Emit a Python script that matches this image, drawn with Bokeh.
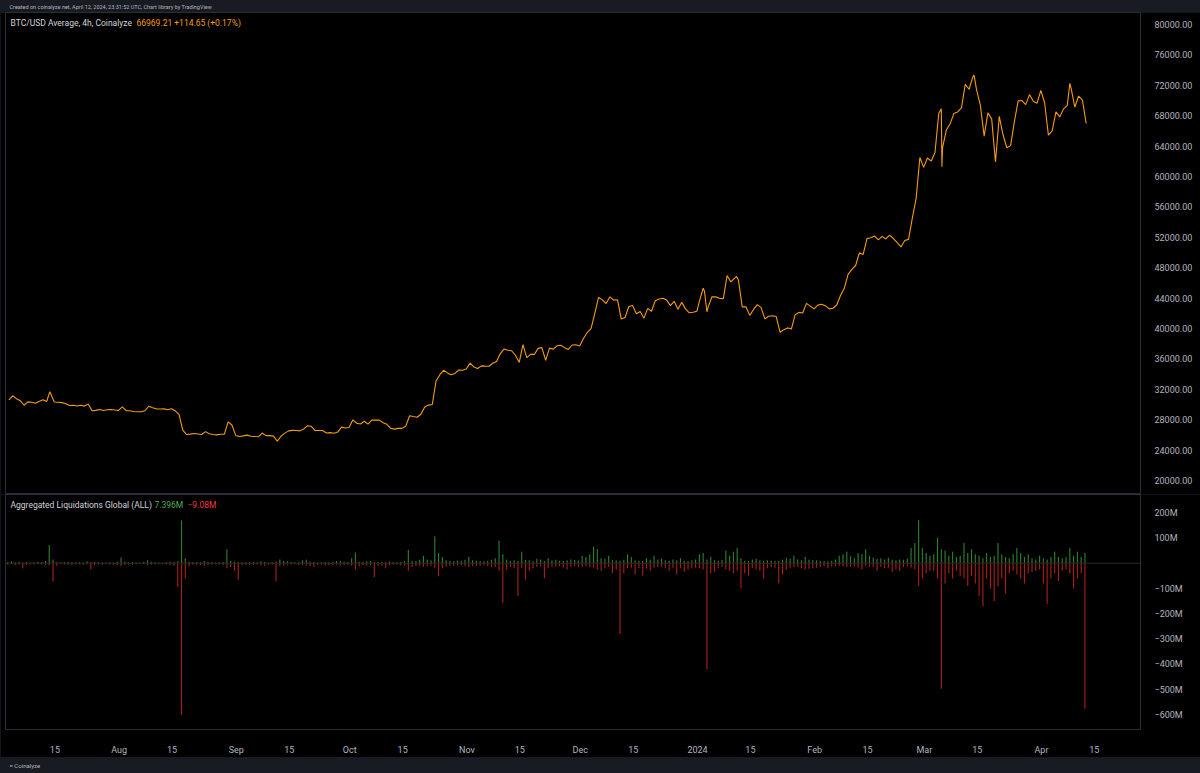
import pandas as pd
from bokeh.plotting import figure
from bokeh.layouts import column
from bokeh.models import (FixedTicker, CustomJSTickFormatter, NumeralTickFormatter,
                          Label, Range1d, Span)
from bokeh.embed import file_html
from bokeh.resources import INLINE

# ---------------- data ----------------
price_start = "2023-07-02"
price_jul = [30600, 31150, 30770, 30500, 29900, 30350, 30290, 30170, 30410, 30620,
             30390, 31470, 30330, 30300, 30250, 30140, 29860, 29910, 29800, 29910,
             29790, 30080, 29180, 29230, 29350, 29210, 29310, 29350, 29280, 29230]
price_aug = [29700, 29180, 29180, 29080, 29040, 29040, 29180, 29770, 29580, 29430,
             29400, 29420, 29300, 29430, 29170, 28700, 26630, 26050, 26100, 26190,
             26120, 26050, 26430, 26160, 26050, 26000, 26090, 26100, 27720, 27300, 25930]
price_sep = [25800, 25870, 25970, 25820, 25780, 25750, 26240, 25900, 25900, 25840,
             25160, 25840, 26230, 26530, 26600, 26570, 26530, 26770, 27210, 27130,
             26570, 26580, 26580, 26250, 26300, 26220, 26370, 27020, 26910, 26970]
price_oct = [27980, 27530, 27430, 27790, 27410, 27950, 27970, 27940, 27590, 27390,
             26870, 26760, 26860, 26860, 27160, 28520, 28420, 28330, 28720, 29680,
             29920, 29990, 33090, 33920, 34500, 34160, 33910, 34090, 34540, 34500, 34670]
price_nov = [35440, 34940, 34730, 35080, 35050, 35040, 35420, 35650, 36700, 37310,
             37140, 37070, 36480, 35550, 37880, 36160, 36600, 36590, 37390, 37480,
             35810, 37420, 37290, 37720, 37800, 37480, 37250, 37830, 37860, 37710]
price_dec = [38690, 39470, 39980, 41980, 44080, 43770, 43290, 44170, 43730, 43790,
             41240, 41450, 42890, 43020, 41930, 42240, 41360, 42650, 42270, 43650,
             43870, 43990, 43740, 43010, 43580, 42520, 43440, 42580, 42070, 42140, 42280]
price_jan = [44180, 44940, 42850, 44180, 44160, 43970, 43930, 46970, 46120, 46630,
             46360, 42850, 42840, 41730, 42510, 43150, 42740, 41260, 41620, 41670,
             41570, 39510, 39850, 40080, 39930, 41820, 42120, 42030, 43300, 42950, 42580]
price_feb = [43080, 43190, 43000, 42580, 42660, 43090, 44340, 45290, 47130, 47770,
             48290, 49960, 49740, 51830, 51940, 52160, 51660, 52120, 51780, 52280,
             51840, 51300, 50730, 51570, 51730, 54520, 57090, 62500, 61200]
price_mar = [62440, 62030, 63170, 68330, 63800, 66110, 66930, 68300, 68500, 69020,
             72120, 71480, 73080, 71400, 69400, 65320, 68390, 67550, 61910, 67910,
             65490, 63780, 64060, 67230, 69960, 69990, 69460, 70780, 69900, 69650, 71330]
price_apr = [69700, 65450, 65990, 68510, 67840, 68900, 69360, 71620, 69140, 70590,
             70060, 66969.21]

# intraday extremes visible on the 4h line
price_extra_times = ["2023-07-13 16:00", "2024-01-02 12:00", "2024-01-03 12:00",
                     "2024-01-11 08:00", "2024-03-05 12:00", "2024-03-05 16:00",
                     "2024-03-14 04:00", "2024-04-08 12:00"]
price_extra_values = [31700, 45300, 42200, 46850, 68900, 61300, 73350, 72250]

# liquidations, millions USD (green = positive, red = negative magnitude)
liq_green_jul = [5, 8, 4, 6, 3, 5, 3, 4, 6, 5, 9, 72, 15, 4, 3, 5, 6, 4, 3, 4,
                 3, 8, 4, 5, 4, 3, 3, 4, 3, 6]
liq_green_aug = [23, 6, 4, 5, 3, 3, 5, 12, 6, 4, 3, 3, 4, 6, 5, 8, 170, 20, 6, 4,
                 5, 4, 9, 5, 4, 3, 4, 5, 55, 10, 6]
liq_green_sep = [5, 3, 4, 4, 5, 4, 8, 5, 3, 4, 6, 15, 9, 8, 5, 3, 4, 12, 14, 6,
                 5, 3, 4, 5, 4, 6, 9, 10, 6, 5]
liq_green_oct = [20, 42, 6, 5, 8, 9, 4, 5, 6, 4, 7, 5, 4, 5, 8, 52, 10, 9, 14, 30,
                 15, 12, 107, 40, 25, 12, 9, 8, 11, 10, 14]
liq_green_nov = [25, 12, 10, 9, 8, 10, 14, 20, 89, 35, 15, 10, 12, 9, 45, 14, 12, 8, 18, 15,
                 9, 20, 12, 14, 10, 9, 12, 15, 13, 11]
liq_green_dec = [30, 25, 35, 65, 55, 20, 18, 30, 12, 12, 10, 14, 35, 25, 12, 10, 9, 20, 14, 30,
                 15, 18, 12, 10, 15, 12, 20, 10, 9, 12, 15]
liq_green_jan = [35, 40, 15, 25, 12, 10, 14, 50, 30, 45, 60, 20, 10, 9, 15, 18, 12, 10, 12, 11,
                 10, 9, 14, 20, 18, 30, 15, 12, 25, 14, 13]
liq_green_feb = [12, 10, 9, 8, 10, 15, 30, 35, 45, 28, 20, 40, 35, 55, 30, 22, 18, 20, 15, 22,
                 14, 12, 15, 14, 18, 60, 80, 170, 60]
liq_green_mar = [40, 30, 35, 100, 55, 50, 30, 45, 25, 30, 80, 40, 55, 35, 30, 20, 40, 25, 30, 80,
                 35, 25, 20, 35, 60, 40, 25, 35, 20, 15, 30]
liq_green_apr = [20, 15, 25, 45, 25, 20, 25, 60, 30, 45, 25, 40]

liq_red_jul = [6, 4, 8, 5, 20, 6, 4, 5, 4, 5, 6, 8, 72, 10, 4, 5, 6, 8, 5, 4,
               6, 5, 25, 8, 5, 6, 4, 5, 6, 7]
liq_red_aug = [12, 6, 5, 6, 4, 3, 4, 8, 6, 5, 4, 3, 5, 6, 10, 94, 600, 60, 12, 6,
               5, 8, 10, 6, 5, 4, 5, 6, 20, 15, 30]
liq_red_sep = [65, 8, 6, 5, 6, 5, 8, 10, 5, 6, 72, 12, 8, 6, 5, 4, 6, 8, 10, 12,
               15, 6, 5, 9, 8, 7, 6, 10, 8, 6]
liq_red_oct = [10, 25, 12, 8, 9, 8, 55, 12, 10, 20, 8, 6, 5, 9, 10, 30, 15, 12, 10, 14,
               12, 10, 18, 52, 20, 14, 12, 10, 9, 8, 12]
liq_red_nov = [15, 12, 10, 10, 8, 12, 14, 15, 30, 156, 25, 15, 20, 130, 18, 65, 30, 20, 14, 12,
               59, 20, 15, 14, 12, 18, 25, 14, 12, 16]
liq_red_dec = [14, 12, 15, 18, 25, 30, 20, 15, 40, 25, 280, 40, 20, 18, 45, 20, 50, 22, 30, 18,
               15, 14, 20, 30, 18, 45, 20, 35, 25, 20, 18]
liq_red_jan = [20, 25, 420, 40, 35, 20, 15, 25, 30, 40, 30, 100, 40, 50, 20, 25, 30, 60, 20, 15,
               18, 80, 45, 25, 20, 15, 14, 20, 25, 22, 20]
liq_red_feb = [18, 15, 12, 20, 14, 12, 10, 12, 15, 14, 12, 18, 25, 10, 14, 15, 30, 14, 20, 18,
               35, 25, 30, 15, 12, 18, 25, 90, 60]
liq_red_mar = [40, 30, 30, 60, 496, 80, 40, 60, 30, 50, 60, 90, 50, 80, 130, 170, 60, 100, 150, 90,
               60, 120, 40, 30, 45, 60, 80, 40, 35, 30, 25]
liq_red_apr = [80, 160, 60, 40, 70, 30, 25, 40, 100, 60, 40, 575]

x_tick_dates = ["2023-07-15", "2023-08-01", "2023-08-15", "2023-09-01", "2023-09-15",
                "2023-10-01", "2023-10-15", "2023-11-01", "2023-11-15", "2023-12-01",
                "2023-12-15", "2024-01-01", "2024-01-15", "2024-02-01", "2024-02-15",
                "2024-03-01", "2024-03-15", "2024-04-01", "2024-04-15"]
x_tick_labels = ["15", "Aug", "15", "Sep", "15", "Oct", "15", "Nov", "15", "Dec",
                 "15", "2024", "15", "Feb", "15", "Mar", "15", "Apr", "15"]
price_ticks = [20000, 24000, 28000, 32000, 36000, 40000, 44000, 48000,
               52000, 56000, 60000, 64000, 68000, 72000, 76000, 80000]
liq_ticks = [-600, -500, -400, -300, -200, -100, 100, 200]

last_price = 66969.21
last_green = 7.396
last_red = -9.08

# ---------------- assemble ----------------
price_daily = (price_jul + price_aug + price_sep + price_oct + price_nov + price_dec +
               price_jan + price_feb + price_mar + price_apr)
daily_dates = pd.date_range(price_start, periods=len(price_daily), freq="D") + pd.Timedelta(hours=20)
ser = pd.concat([pd.Series(price_daily, index=daily_dates),
                 pd.Series(price_extra_values, index=pd.to_datetime(price_extra_times))]).sort_index()
price_dates = ser.index
price = ser.values

liq_green = (liq_green_jul + liq_green_aug + liq_green_sep + liq_green_oct + liq_green_nov +
             liq_green_dec + liq_green_jan + liq_green_feb + liq_green_mar + liq_green_apr)
liq_red = (liq_red_jul + liq_red_aug + liq_red_sep + liq_red_oct + liq_red_nov +
           liq_red_dec + liq_red_jan + liq_red_feb + liq_red_mar + liq_red_apr)
liq_neg = [-v for v in liq_red]
liq_dates = pd.date_range(price_start, periods=len(liq_green), freq="D") + pd.Timedelta(hours=12)

tick_ms = [int(pd.Timestamp(d).value // 10**6) for d in x_tick_dates]

# ---------------- style ----------------
FONT = "Roboto"
BG = "#000000"
STRIP = "#181b22"
LINEC = "#2a2e39"
AXC = "#b2b5be"
TXT = "#d1d4dc"
ORANGE = "#f39c12"
GREEN = "#4caf50"
RED = "#f23645"
W = 1200
LB, RB = 5, 60
FW = W - LB - RB

xr = Range1d(pd.Timestamp("2023-07-01 22:20"), pd.Timestamp("2024-04-27 04:48"))


def style_yaxis(ax):
    ax.major_label_text_color = AXC
    ax.major_label_text_font = FONT
    ax.major_label_text_font_size = "9px"
    ax.major_tick_line_color = None
    ax.minor_tick_line_color = None
    ax.axis_line_color = LINEC
    ax.major_label_standoff = 8


def strip_figure(h):
    f = figure(width=W, height=h, x_range=(0, 1), y_range=(0, 1), toolbar_location=None,
               output_backend="svg", min_border=0, background_fill_color=STRIP,
               border_fill_color=STRIP, outline_line_color=None,
               x_axis_location=None, y_axis_location=None)
    f.grid.visible = False
    f.xgrid.grid_line_color = None
    f.ygrid.grid_line_color = None
    return f


# header strip
head = strip_figure(12)
head.add_layout(Label(x=4, y=6, x_units="screen", y_units="screen",
                      text="Created on coinalyze.net, April 12, 2024, 23:31:52 UTC, Chart library by TradingView",
                      text_font=FONT, text_font_size="5.5px", text_color=AXC,
                      text_baseline="middle"))

# price pane
p = figure(width=W, height=482, x_range=xr, y_range=Range1d(18158, 81579),
           x_axis_type="datetime", x_axis_location=None, y_axis_location="right",
           toolbar_location=None, output_backend="svg",
           min_border_left=LB, min_border_right=RB, min_border_top=0, min_border_bottom=0,
           background_fill_color=BG, border_fill_color=BG, outline_line_color=LINEC)
p.grid.visible = False
p.yaxis.ticker = FixedTicker(ticks=price_ticks)
p.yaxis.formatter = NumeralTickFormatter(format="0.00")
style_yaxis(p.yaxis[0])
p.line(x=price_dates, y=price, line_color=ORANGE, line_width=1.1)

p.add_layout(Label(x=5, y=472, x_units="screen", y_units="screen",
                   text="BTC/USD Average, 4h, Coinalyze", text_font=FONT,
                   text_font_size="8.5px", text_color=TXT, text_baseline="middle"))
p.add_layout(Label(x=131, y=472, x_units="screen", y_units="screen",
                   text="66969.21  +114.65 (+0.17%)", text_font=FONT,
                   text_font_size="8.5px", text_color=ORANGE, text_baseline="middle"))
p.add_layout(Label(x=FW + 1, y=last_price, x_units="screen", y_units="data",
                   text="66969.21", text_font=FONT, text_font_size="9px",
                   text_color="#000000", text_baseline="middle",
                   background_fill_color="#f7931a", padding=2))

# liquidation pane
q = figure(width=W, height=263, x_range=xr, y_range=Range1d(-657.5, 271.7),
           x_axis_type="datetime", y_axis_location="right",
           toolbar_location=None, output_backend="svg",
           min_border_left=LB, min_border_right=RB, min_border_top=0, min_border_bottom=27,
           background_fill_color=BG, border_fill_color=BG, outline_line_color=LINEC)
q.grid.visible = False
q.yaxis.ticker = FixedTicker(ticks=liq_ticks)
q.yaxis.formatter = CustomJSTickFormatter(code="return (tick < 0 ? '\u2212' : '') + Math.abs(tick) + 'M';")
style_yaxis(q.yaxis[0])

xa = q.xaxis[0]
xa.ticker = FixedTicker(ticks=tick_ms)
xa.formatter = CustomJSTickFormatter(args=dict(tms=tick_ms, tl=x_tick_labels),
                                     code="const i = tms.indexOf(tick); return i >= 0 ? tl[i] : '';")
xa.major_label_text_color = AXC
xa.major_label_text_font = FONT
xa.major_label_text_font_size = "9px"
xa.major_tick_line_color = None
xa.minor_tick_line_color = None
xa.axis_line_color = None
xa.major_label_standoff = 9

bar_w = 0.3 * 86400000
q.add_layout(Span(location=0, dimension="width", line_color="#2b2b2b", line_width=1))
q.vbar(x=liq_dates, top=liq_green, bottom=0, width=bar_w,
       fill_color="#2a8030", line_color=None)
q.vbar(x=liq_dates, top=0, bottom=liq_neg, width=bar_w,
       fill_color="#a81e1e", line_color=None)

q.add_layout(Label(x=5, y=225, x_units="screen", y_units="screen",
                   text="Aggregated Liquidations Global (ALL)", text_font=FONT,
                   text_font_size="8.5px", text_color=TXT, text_baseline="middle"))
q.add_layout(Label(x=149, y=225, x_units="screen", y_units="screen",
                   text="7.396M", text_font=FONT, text_font_size="8.5px",
                   text_color=GREEN, text_baseline="middle"))
q.add_layout(Label(x=182, y=225, x_units="screen", y_units="screen",
                   text="\u22129.08M", text_font=FONT, text_font_size="8.5px",
                   text_color=RED, text_baseline="middle"))
q.add_layout(Label(x=FW + 1, y=last_green - 3, x_units="screen", y_units="data",
                   text="7.396M", text_font=FONT, text_font_size="9px",
                   text_color="#ffffff", text_baseline="middle",
                   background_fill_color="#3fa23f", padding=2))
q.add_layout(Label(x=FW + 1, y=last_red - 27, x_units="screen", y_units="data",
                   text="\u22129.08M", text_font=FONT, text_font_size="9px",
                   text_color="#ffffff", text_baseline="middle",
                   background_fill_color="#e53935", padding=2))

# footer strip
foot = strip_figure(16)
foot.add_layout(Label(x=4, y=8, x_units="screen", y_units="screen",
                      text="\u2261 Coinalyze", text_font=FONT, text_font_size="6px",
                      text_color=AXC, text_baseline="middle"))

layout = column(head, p, q, foot, spacing=0)
layout.background = STRIP

open("out.html", "w").write(file_html(layout, INLINE))
